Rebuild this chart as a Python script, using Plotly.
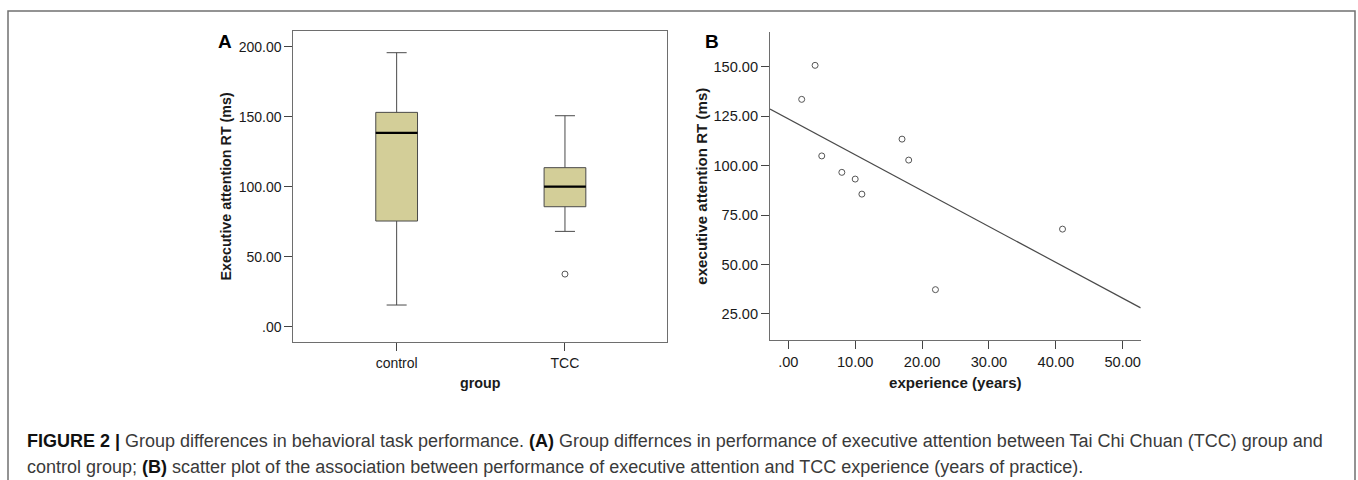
import numpy as np
import plotly.graph_objects as go

# ---------------- data ----------------
groups = ["control", "TCC"]
q1 = [75.5, 85.7]
median = [138.4, 100.0]
q3 = [153.1, 113.6]
lower_whisker = [15.5, 68.1]
upper_whisker = [195.7, 150.7]
outlier_group = ["TCC"]
outlier_value = [37.6]

experience = [2, 4, 5, 8, 10, 11, 17, 18, 22, 41]
exec_rt = [133.5, 150.7, 104.9, 96.6, 93.2, 85.6, 113.4, 102.8, 37.3, 67.9]

a_ytick_vals = [0, 50, 100, 150, 200]
a_ytick_text = [".00", "50.00", "100.00", "150.00", "200.00"]
b_xtick_vals = [0, 10, 20, 30, 40, 50]
b_xtick_text = [".00", "10.00", "20.00", "30.00", "40.00", "50.00"]
b_ytick_vals = [25, 50, 75, 100, 125, 150]
b_ytick_text = ["25.00", "50.00", "75.00", "100.00", "125.00", "150.00"]

caption_line1 = ("<b style='color:#111'>FIGURE 2 |</b> Group differences in behavioral task performance. "
                 "<b style='color:#111'>(A)</b> Group differnces in performance of executive attention between "
                 "Tai Chi Chuan (TCC) group and")
caption_line2 = ("control group; <b style='color:#111'>(B)</b> scatter plot of the association between performance "
                 "of executive attention and TCC experience (years of practice).")

# ---------------- figure ----------------
W, H = 1358, 480
FONT = "Liberation Sans, Arial, sans-serif"
BOX_FILL = "rgb(211,206,152)"
AX = "#6e6e6e"
BOX_W = 0.248

positions = list(range(len(groups)))

fig = go.Figure()

fig.add_trace(go.Box(
    x=positions, q1=q1, median=median, q3=q3,
    lowerfence=lower_whisker, upperfence=upper_whisker,
    fillcolor=BOX_FILL, line=dict(color="#4a4a4a", width=1),
    width=BOX_W, whiskerwidth=0.48, boxpoints=False,
    xaxis="x", yaxis="y", showlegend=False, hoverinfo="skip",
))
fig.add_trace(go.Scatter(
    x=[groups.index(g) for g in outlier_group], y=outlier_value,
    mode="markers", marker=dict(symbol="circle-open", size=6, color="#555", line=dict(width=1)),
    xaxis="x", yaxis="y", showlegend=False,
))

fig.add_trace(go.Scatter(
    x=experience, y=exec_rt, mode="markers",
    marker=dict(symbol="circle-open", size=6, color="#555", line=dict(width=1)),
    xaxis="x2", yaxis="y2", showlegend=False,
))

b_xrange = [-2.74, 52.69]
slope, intercept = np.polyfit(experience, exec_rt, 1)
fit_x = np.array(b_xrange)
fig.add_trace(go.Scatter(
    x=fit_x, y=slope * fit_x + intercept, mode="lines",
    line=dict(color="#4a4a4a", width=1.2),
    xaxis="x2", yaxis="y2", showlegend=False, hoverinfo="skip",
))

shapes = []
# thick black median lines
for i, m in zip(positions, median):
    shapes.append(dict(type="line", xref="x", yref="y",
                       x0=i - BOX_W / 2, x1=i + BOX_W / 2, y0=m, y1=m,
                       line=dict(color="black", width=2.2)))
# outer figure frame
shapes.append(dict(type="rect", xref="paper", yref="paper",
                   x0=8 / W, x1=1355 / W, y0=-0.2, y1=1 - 11 / H,
                   line=dict(color="#707070", width=1.5)))


def px(x):
    return x / W


def py(y):
    return 1 - y / H


def axis_style(size):
    return dict(showgrid=False, zeroline=False, showline=True, linecolor=AX,
                linewidth=1, ticks="outside", ticklen=8, tickcolor="#444",
                tickfont=dict(family=FONT, size=size, color="#1a1a1a"))


layout = dict(
    width=W, height=H, margin=dict(l=0, r=0, t=0, b=0),
    paper_bgcolor="white", plot_bgcolor="white",
    font=dict(family=FONT),
    xaxis=dict(domain=[px(293.3), px(667.3)], range=[-0.614, 1.608],
               tickvals=positions, ticktext=groups, mirror=True,
               anchor="y", **axis_style(14)),
    yaxis=dict(domain=[py(342), py(31)], range=[-10.9, 211.2],
               tickvals=a_ytick_vals, ticktext=a_ytick_text, mirror=True,
               anchor="x", **axis_style(14)),
    xaxis2=dict(domain=[px(770), px(1140.7)], range=b_xrange,
                tickvals=b_xtick_vals, ticktext=b_xtick_text,
                anchor="y2", **axis_style(14.6)),
    yaxis2=dict(domain=[py(340), py(31.7)], range=[11.85, 167.7],
                tickvals=b_ytick_vals, ticktext=b_ytick_text,
                anchor="x2", **axis_style(14.6)),
    shapes=shapes,
)
fig.update_layout(**layout)

fa = dict(family=FONT, size=14.3, color="#1a1a1a")
fb = dict(family=FONT, size=15.1, color="#1a1a1a")


def note(text, x, y, font, xanchor="center", yanchor="middle", angle=0):
    return dict(text=text, x=px(x), y=py(y), xref="paper", yref="paper",
                xanchor=xanchor, yanchor=yanchor, textangle=angle,
                showarrow=False, font=font)


ann = [
    note("<b>A</b>", 225, 41.7, dict(family=FONT, size=19, color="black")),
    note("<b>B</b>", 711.7, 41.7, dict(family=FONT, size=19, color="black")),
    note("<b>Executive attention RT (ms)</b>", 225, 186.5, fa, angle=-90),
    note("<b>group</b>", 480.5, 383, fa),
    note("<b>executive attention RT (ms)</b>", 701.7, 186, fb, angle=-90),
    note("<b>experience (years)</b>", 955.3, 382.7, fb),
]
capfont = dict(family=FONT, size=18, color="#3a3a3a")
ann.append(note(caption_line1, 25, 441, capfont, xanchor="left"))
ann.append(note(caption_line2, 25, 467, capfont, xanchor="left"))
fig.update_layout(annotations=ann)

fig.write_html("out.html", config={"displayModeBar": False},
               post_script="document.body.style.margin='0px';")
